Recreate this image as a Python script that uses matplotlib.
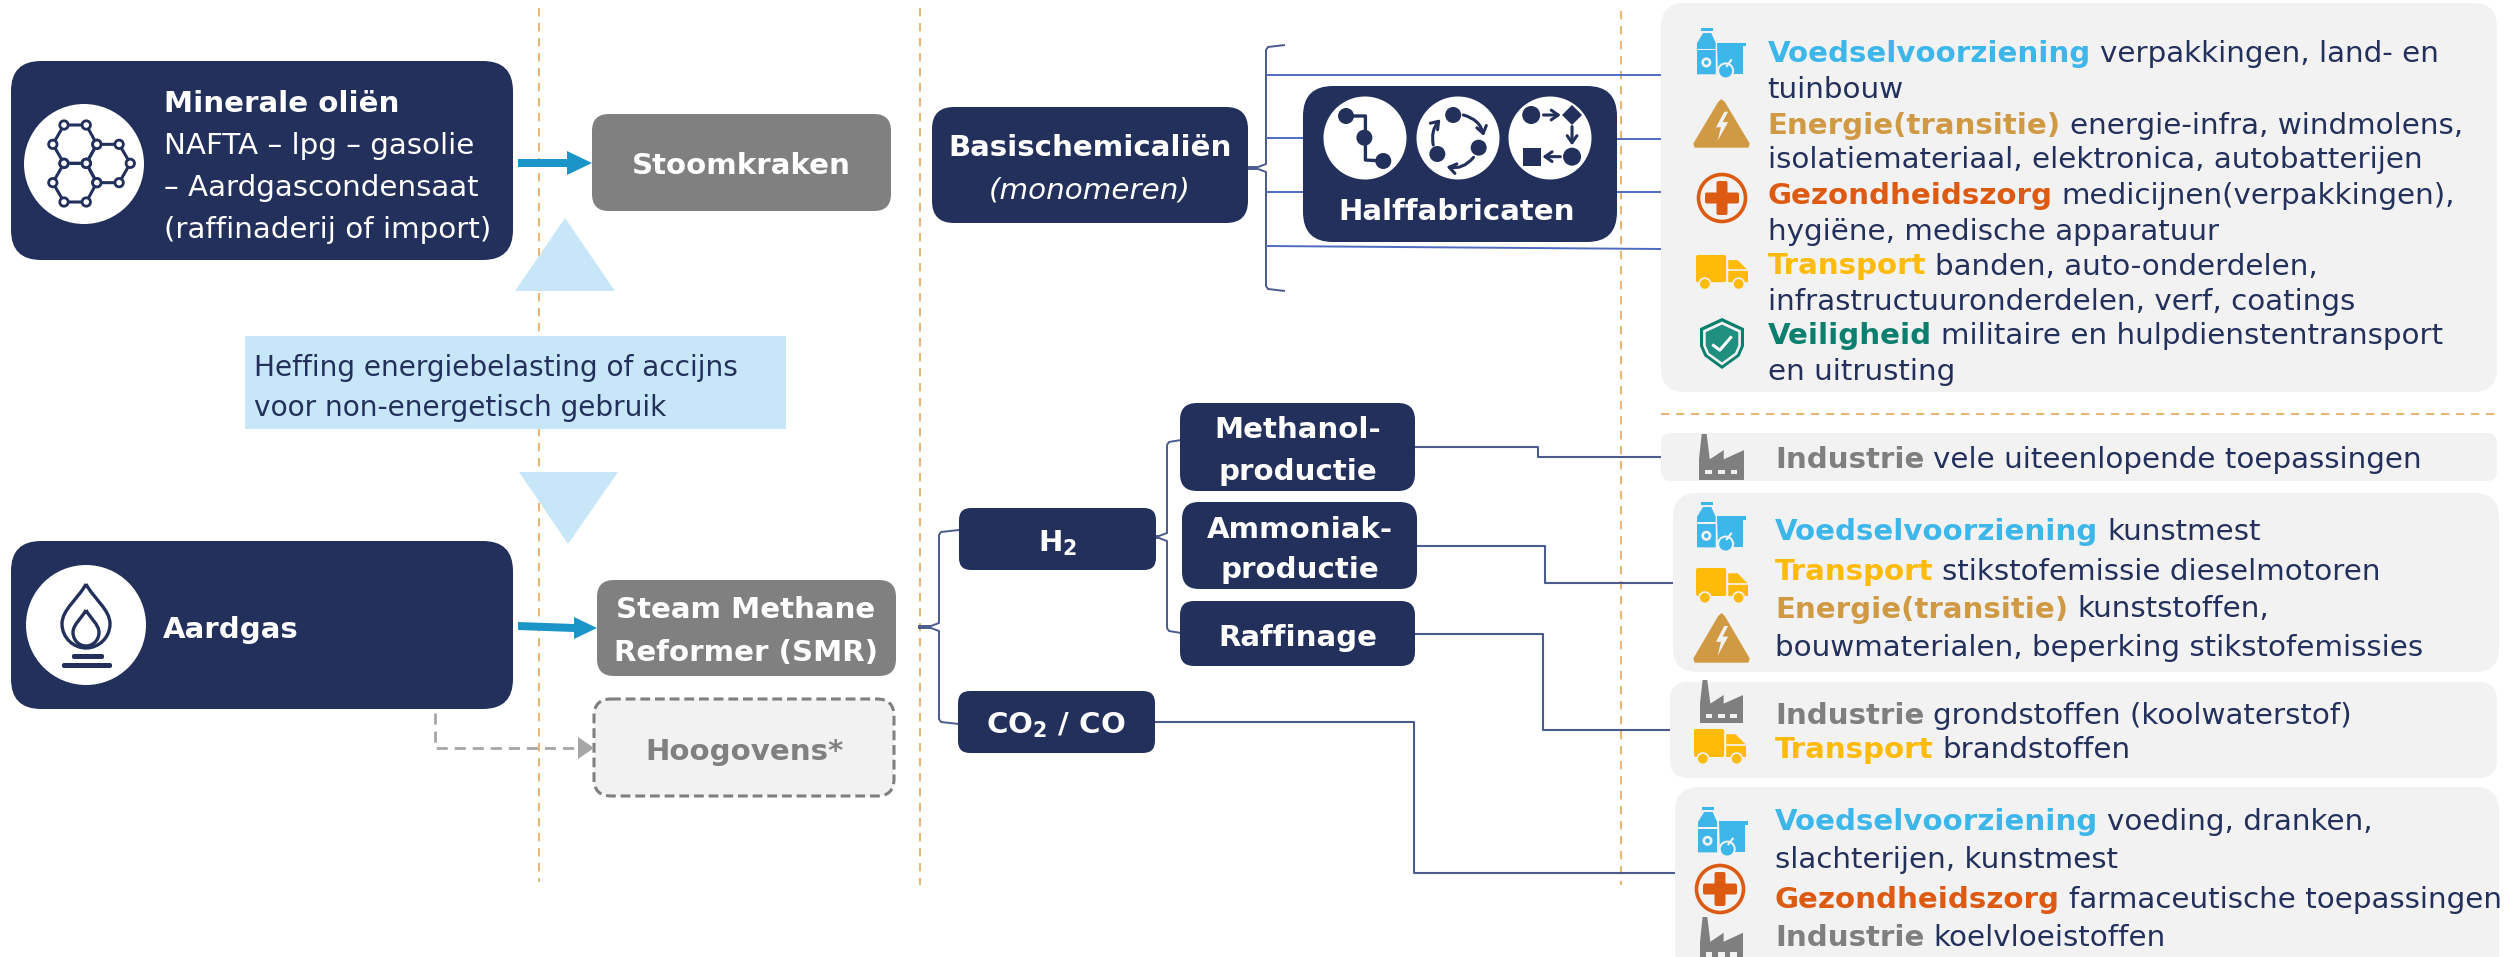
import matplotlib
matplotlib.use("Agg")
import matplotlib.pyplot as plt
from matplotlib.patches import FancyBboxPatch, Polygon, Circle, Rectangle, FancyArrowPatch, PathPatch
from matplotlib.path import Path

NAVY = '#22305B'; GREY = '#808080'; PANEL = '#F2F2F2'; LBLUE = '#C7E7F9'; ARROW = '#1B95C8'
ORANGE = '#E3A857'; LINE = '#4A5B8C'; BLUELINE = '#4F6BC0'
C = {'food': '#3DB7E9', 'energy': '#D09A45', 'health': '#DD5A12', 'transport': '#FFBA0A',
     'safety': '#0B7F6E', 'industry': '#7F7F7F'}

source_oil = ['Minerale oliën', 'NAFTA – lpg – gasolie', '– Aardgascondensaat', '(raffinaderij of import)']
source_gas = 'Aardgas'
levy = ['Heffing energiebelasting of accijns', 'voor non-energetisch gebruik']
smr = ['Steam Methane', 'Reformer (SMR)']
panel1 = [[('food', 'Voedselvoorziening'), (None, 'verpakkingen, land- en')], [(None, 'tuinbouw')],
          [('energy', 'Energie(transitie)'), (None, 'energie-infra, windmolens,')],
          [(None, 'isolatiemateriaal, elektronica, autobatterijen')],
          [('health', 'Gezondheidszorg'), (None, 'medicijnen(verpakkingen),')],
          [(None, 'hygiëne, medische apparatuur')],
          [('transport', 'Transport'), (None, 'banden, auto-onderdelen,')],
          [(None, 'infrastructuuronderdelen, verf, coatings')],
          [('safety', 'Veiligheid'), (None, 'militaire en hulpdienstentransport')],
          [(None, 'en uitrusting')]]
panel2 = [[('industry', 'Industrie'), (None, 'vele uiteenlopende toepassingen')]]
panel3 = [[('food', 'Voedselvoorziening'), (None, 'kunstmest')],
          [('transport', 'Transport'), (None, 'stikstofemissie dieselmotoren')],
          [('energy', 'Energie(transitie)'), (None, 'kunststoffen,')],
          [(None, 'bouwmaterialen, beperking stikstofemissies')]]
panel4 = [[('industry', 'Industrie'), (None, 'grondstoffen (koolwaterstof)')],
          [('transport', 'Transport'), (None, 'brandstoffen')]]
panel5 = [[('food', 'Voedselvoorziening'), (None, 'voeding, dranken,')],
          [(None, 'slachterijen, kunstmest')],
          [('health', 'Gezondheidszorg'), (None, 'farmaceutische toepassingen')],
          [('industry', 'Industrie'), (None, 'koelvloeistoffen')]]

plt.rcParams['font.family'] = ['DejaVu Sans']
plt.rcParams['mathtext.fontset'] = 'dejavusans'
fig = plt.figure(figsize=(25.09, 9.57), dpi=100)
ax = fig.add_axes([0, 0, 1, 1])
ax.set_xlim(0, 2509); ax.set_ylim(957, 0); ax.axis('off')
FS = 21.2; FSB = 21.1; DY = 1.5


def rbox(x0, y0, x1, y1, r, fc, ec='none', lw=0, ls='-', z=3):
    p = FancyBboxPatch((x0, y0), x1 - x0, y1 - y0, boxstyle=f'round,pad=0,rounding_size={r}',
                       fc=fc, ec=ec, lw=lw, ls=ls, zorder=z, clip_on=True)
    ax.add_patch(p)
    return p


def line(xs, ys, c=LINE, lw=1.4, z=2, **kw):
    ax.plot(xs, ys, color=c, lw=lw, zorder=z, solid_capstyle='butt', **kw)


def T(x, y, s, c='white', w='bold', fs=None, ha='center', **kw):
    fs = fs or (FSB if w == 'bold' else FS)
    return ax.text(x, y + DY, s, color=c, fontweight=w, fontsize=fs, ha=ha, va='center', zorder=6, **kw)


def rich(x, ys, lines, gap=9.0):
    r = fig.canvas.get_renderer()
    for y, segs in zip(ys, lines):
        cx = x
        for key, s in segs:
            t = T(cx, y, s, c=C[key] if key else NAVY, w='bold' if key else 'normal', ha='left')
            cx = t.get_window_extent(r).x1 + gap


def brace(xstart, ymid, xv, ytop, ybot, xend_top, xend_bot, c=LINE, lw=1.4):
    v = [(xstart, ymid - 1), (xv - 8, ymid - 1), (xv, ymid - 4), (xv, ytop + 5), (xv + 2, ytop + 2), (xend_top, ytop)]
    w = [(xstart, ymid + 1), (xv - 8, ymid + 1), (xv, ymid + 4), (xv, ybot - 5), (xv + 2, ybot - 2), (xend_bot, ybot)]
    for seg in (v, w):
        line([p[0] for p in seg], [p[1] for p in seg], c=c, lw=lw)


# ---- icons -----------------------------------------------------------------
def icon_food(x0, y0, x1, y1):
    c = C['food']; W = x1 - x0; H = y1 - y0
    f = lambda u, v: (x0 + (u - 103) / 89 * W, y0 + (v - 85) / 148 * H)
    ax.add_patch(Polygon([f(110, 85), f(132, 85), f(132, 95), f(110, 95)], fc=c, ec='none', zorder=4))
    ax.add_patch(Polygon([f(114, 100), f(129, 100), f(137, 130), f(137, 222), f(103, 222), f(103, 130)], fc=c, ec='none', zorder=4))
    ax.add_patch(Polygon([f(103, 146), f(137, 146), f(137, 151), f(103, 151)], fc=PANEL, ec='none', zorder=5))
    ax.add_patch(Polygon([f(140, 128), f(192, 128), f(192, 138), f(186, 138), f(186, 222), f(142, 222)], fc=c, ec='none', zorder=4))
    ax.add_patch(Circle(f(120, 187), 5, fc=PANEL, ec='none', zorder=5))
    ax.add_patch(Circle(f(120, 187), 2.3, fc=c, ec='none', zorder=6))
    ax.add_patch(Circle(f(155, 212), 8.5, fc=PANEL, ec='none', zorder=5))
    ax.add_patch(Circle(f(155, 212), 6.5, fc=c, ec='none', zorder=6))
    line(*zip(f(156, 200), f(166, 178)), c=PANEL, lw=1.5, z=6)


def icon_energy(x0, y0, x1, y1):
    c = C['energy']; W = x1 - x0; H = y1 - y0
    f = lambda u, v: (x0 + u * W, y0 + v * H)
    ax.add_patch(Polygon([f(.5, 0), f(.55, .05), f(1, .93), f(.98, 1), f(.02, 1), f(0, .93), f(.45, .05)], fc=c, ec=c, lw=1, zorder=4))
    ax.add_patch(Polygon([f(.55, .25), f(.40, .58), f(.49, .58), f(.43, .87), f(.62, .47), f(.52, .47), f(.62, .25)], fc=PANEL, ec='none', zorder=5))


def icon_health(cx, cy, r=25):
    c = C['health']
    ax.add_patch(Circle((cx, cy), r - 1.5, fc=PANEL, ec=c, lw=2.6, zorder=4))
    ax.add_patch(FancyBboxPatch((cx - 17, cy - 5.5), 34, 11, boxstyle='round,pad=0,rounding_size=2', fc=c, ec='none', zorder=5))
    ax.add_patch(FancyBboxPatch((cx - 5.5, cy - 17), 11, 34, boxstyle='round,pad=0,rounding_size=2', fc=c, ec='none', zorder=5))


def icon_truck(x0, y0, x1, y1):
    c = C['transport']; W = x1 - x0; H = y1 - y0
    f = lambda u, v: (x0 + u * W, y0 + v * H)
    ax.add_patch(FancyBboxPatch(f(0, 0), .58 * W, .8 * H, boxstyle='round,pad=0,rounding_size=2', fc=c, ec='none', zorder=4))
    ax.add_patch(Polygon([f(.62, .15), f(.8, .15), f(1, .45), f(1, .8), f(.62, .8)], fc=c, ec='none', zorder=4))
    line(*zip(f(.62, .45), f(1, .45)), c=PANEL, lw=1.2, z=5)
    for u in (.17, .82):
        ax.add_patch(Circle(f(u, .85), 5.7, fc=c, ec=PANEL, lw=1.2, zorder=5))


def icon_shield(x0, y0, x1, y1):
    c = C['safety']; W = x1 - x0; H = y1 - y0
    f = lambda u, v: (x0 + u * W, y0 + v * H)
    def shield(k, **kw):
        g = lambda u, v: f(.5 + (u - .5) * k, .5 + (v - .5) * k)
        verts = [g(.5, 0), g(1, .2), g(1, .55), g(.9, .75), g(.5, 1), g(.1, .75), g(0, .55), g(0, .2)]
        ax.add_patch(Polygon(verts, closed=True, **kw))
    shield(1, fc=c, ec='none', zorder=4)
    shield(.86, fc=PANEL, ec='none', zorder=5)
    shield(.74, fc='#1F8F80', ec='none', zorder=6)
    line(*zip(f(.28, .52), f(.45, .63), f(.72, .36)), c='white', lw=2.2, z=7)


def icon_factory(x0, y0, x1, y1):
    c = C['industry']; W = x1 - x0; H = y1 - y0
    f = lambda u, v: (x0 + u * W, y0 + v * H)
    ax.add_patch(Polygon([f(.06, 0), f(.17, 0), f(.24, .55), f(.55, .35), f(.55, .55), f(1, .35), f(1, 1), f(0, 1), f(0, .55)], fc=c, ec='none', zorder=4))
    for u in (.14, .42, .70):
        ax.add_patch(Rectangle(f(u, .78), .15 * W, .1 * H, fc=PANEL, ec='none', zorder=5))


# ---- guide lines ------------------------------------------------------------
for xv, y0, y1 in [(539, 8, 882), (919.5, 8, 885), (1620.5, 11, 885)]:
    ax.plot([xv, xv], [y0, y1], color=ORANGE, lw=1.2, ls=(0, (5, 4)), zorder=1)
ax.plot([1661, 2498], [414, 414], color=ORANGE, lw=1.2, ls=(0, (5, 4)), zorder=1)

# ---- left column ------------------------------------------------------------
rbox(11, 61, 513, 260, 30, NAVY)
ax.add_patch(Circle((84, 164), 60, fc='white', ec='none', zorder=4))
z1 = lambda u, v: (u / 1.704, v / 3)
hexes = [[(109, 375), (147, 375), (165, 433), (147, 490), (109, 490), (90, 433)],
         [(165, 433), (203, 433), (222, 490), (203, 548), (165, 548), (147, 490)],
         [(109, 490), (147, 490), (165, 548), (147, 606), (109, 606), (90, 548)]]
for h in hexes:
    pts = [z1(*p) for p in h]
    ax.add_patch(Polygon(pts, closed=True, fc='none', ec=NAVY, lw=2.2, zorder=5))
    for p in pts:
        ax.add_patch(Circle(p, 4.2, fc='white', ec=NAVY, lw=2.0, zorder=6))
for y, s, w in zip([102, 144, 187, 229], source_oil, ['bold', 'normal', 'normal', 'normal']):
    T(164, y, s, w=w, ha='left')

rbox(592, 114, 891, 211, 17, GREY)
T(741, 164, 'Stoomkraken')
ax.add_patch(Polygon([(518, 159), (567, 159), (567, 151), (592, 163), (567, 175), (567, 167), (518, 167)], fc=ARROW, ec='none', zorder=5))
ax.add_patch(Polygon([(565, 218), (615, 291), (515, 291)], fc=LBLUE, ec='none', zorder=2))
ax.add_patch(Rectangle((245, 336), 541, 93, fc=LBLUE, ec='none', zorder=2))
for y, s in zip([366, 406], levy):
    T(254, y, s, c=NAVY, w='normal', ha='left', fs=20.2)
ax.add_patch(Polygon([(519, 472), (618, 472), (568, 544)], fc=LBLUE, ec='none', zorder=2))

rbox(11, 541, 513, 709, 30, NAVY)
ax.add_patch(Circle((86, 625), 60, fc='white', ec='none', zorder=4))


def flame(cx, top, bot, hw, **kw):
    h = bot - top
    m = top + .62 * h
    v = [(cx, top), (cx + .3 * hw, top + .22 * h), (cx + hw, top + .4 * h), (cx + hw, m),
         (cx + hw, top + .85 * h), (cx + .5 * hw, bot), (cx, bot),
         (cx - .5 * hw, bot), (cx - hw, top + .85 * h), (cx - hw, m),
         (cx - hw, top + .4 * h), (cx - .3 * hw, top + .22 * h), (cx, top)]
    codes = [Path.MOVETO] + [Path.CURVE4] * 12
    ax.add_patch(PathPatch(Path(v, codes), **kw))


flame(86, 584, 648, 24, fc='none', ec=NAVY, lw=2.4, zorder=5)
flame(86, 610, 646, 13, fc='none', ec=NAVY, lw=2.4, zorder=5)
ax.add_patch(FancyBboxPatch((72, 654), 32, 5, boxstyle='round,pad=0,rounding_size=2', fc=NAVY, ec='none', zorder=5))
ax.add_patch(FancyBboxPatch((62, 663), 50, 5, boxstyle='round,pad=0,rounding_size=2', fc=NAVY, ec='none', zorder=5))
T(163, 628, source_gas, ha='left')

rbox(597, 580, 896, 676, 17, GREY)
for y, s in zip([609, 652], smr):
    T(746, y, s)
ax.add_patch(Polygon([(518, 622), (574, 624), (574, 617), (597, 628), (574, 639), (574, 632), (518, 630)], fc=ARROW, ec='none', zorder=5))

rbox(594, 699, 894, 796, 17, PANEL, ec='#7F7F7F', lw=2.2, ls=(0, (3.2, 1.6)))
T(744, 750, 'Hoogovens*', c=GREY)
ax.plot([435, 435, 580], [713, 748, 748], color='#A6A6A6', lw=2.0, ls=(0, (4, 2.5)), zorder=2)
ax.add_patch(Polygon([(578, 737), (594, 748), (578, 759)], fc='#A6A6A6', ec='none', zorder=3))

# ---- middle column ----------------------------------------------------------
rbox(932, 107, 1248, 223, 22, NAVY)
T(1090, 147, 'Basischemicaliën')
T(1090, 189, '(monomeren)', w='normal', style='italic')
brace(1248, 168, 1266, 45, 291, 1285, 1285)
for xs, ys in [([1266, 1661], [75, 75]), ([1266, 1303], [138, 138]), ([1617, 1661], [139, 139]),
               ([1266, 1303], [192, 192]), ([1617, 1661], [192, 192]), ([1266, 1661], [246, 249])]:
    line(xs, ys, c=BLUELINE, lw=1.4, z=2)

rbox(1303, 86, 1617, 242, 30, NAVY)
T(1457, 211, 'Halffabricaten')
for cx in (1365, 1458, 1550):
    ax.add_patch(Circle((cx, 138), 41.5, fc='white', ec='none', zorder=4))
z3 = lambda u, v: (920 + u / 1.96, v / 3)
p = [z3(835, 348), z3(873, 348), z3(873, 480), z3(908, 483)]
line(*zip(*p), c=NAVY, lw=2.4, z=5)
for u, v in [(835, 348), (871, 413), (908, 483)]:
    ax.add_patch(Circle(z3(u, v), 8, fc=NAVY, ec='none', zorder=6))
for u, v in [(1045, 345), (1095, 443), (1014, 462)]:
    ax.add_patch(Circle(z3(u, v), 8, fc=NAVY, ec='none', zorder=6))
for a, b, rad in [((1065, 345), (1105, 408), -.3), ((1085, 472), (1032, 500), -.3), ((1006, 435), (1020, 358), -.25)]:
    ax.add_patch(FancyArrowPatch(z3(*a), z3(*b), connectionstyle=f'arc3,rad={rad}', arrowstyle='->,head_length=5,head_width=3.5', color=NAVY, lw=2.2, zorder=6, shrinkA=0, shrinkB=0))
ax.add_patch(Circle(z3(1198, 345), 9, fc=NAVY, ec='none', zorder=6))
ax.add_patch(Circle(z3(1278, 470), 9, fc=NAVY, ec='none', zorder=6))
cxd, cyd = z3(1278, 345)
ax.add_patch(Polygon([(cxd, cyd - 10), (cxd + 10, cyd), (cxd, cyd + 10), (cxd - 10, cyd)], fc=NAVY, ec='none', zorder=6))
sx, sy = z3(1199, 470)
ax.add_patch(Rectangle((sx - 9, sy - 9), 18, 18, fc=NAVY, ec='none', zorder=6))
for a, b in [((1222, 345), (1256, 345)), ((1278, 380), (1278, 436)), ((1255, 470), (1220, 470))]:
    ax.add_patch(FancyArrowPatch(z3(*a), z3(*b), arrowstyle='->,head_length=5,head_width=3.5', color=NAVY, lw=2.2, zorder=6, shrinkA=0, shrinkB=0))

brace(918, 627, 939, 530, 724, 959, 959)
brace(1156, 537, 1167, 440, 633, 1181, 1181)

for x0, y0, x1, y1, r, lab, ys in [(1180, 403, 1415, 491, 17, ['Methanol-', 'productie'], [429, 470]),
                                   (1182, 502, 1417, 589, 17, ['Ammoniak-', 'productie'], [528, 569]),
                                   (1180, 601, 1415, 666, 14, ['Raffinage'], [637])]:
    rbox(x0, y0, x1, y1, r, NAVY)
    for y, s in zip(ys, lab):
        T((x0 + x1) / 2, y, s)
rbox(959, 508, 1156, 570, 12, NAVY); T(1058, 542, r'H$_{\mathbf{2}}$')
rbox(958, 691, 1155, 753, 12, NAVY); T(1056, 724, r'CO$_{\mathbf{2}}$ / CO')

for xs, ys in [([1415, 1538, 1538, 1661], [447, 447, 457, 457]),
               ([1417, 1545, 1545, 1673], [546, 546, 583, 583]),
               ([1415, 1543, 1543, 1670], [634, 634, 730, 730]),
               ([1155, 1414, 1414, 1675], [722, 722, 873, 873])]:
    line(xs, ys, lw=1.5)

# ---- right panels -----------------------------------------------------------
rbox(1661, 3, 2497, 392, 24, PANEL, z=1.5)
rbox(1661, 433, 2497, 481, 10, PANEL, z=1.5)
rbox(1673, 493, 2499, 672, 24, PANEL, z=1.5)
rbox(1670, 682, 2497, 778, 18, PANEL, z=1.5)
rbox(1675, 787, 2499, 990, 24, PANEL, z=1.5)

fig.canvas.draw()
rich(1767.5, [53, 89, 124, 159, 194, 230, 265, 300, 335, 370], panel1)
rich(1775, [459], panel2)
rich(1775, [531, 570, 608, 647], panel3)
rich(1775, [714, 749], panel4)
rich(1775, [821, 859, 898, 936], panel5)

icon_food(1697, 28, 1746, 78); icon_energy(1694, 100, 1749, 147); icon_health(1722, 198)
icon_truck(1696, 255, 1748, 289); icon_shield(1700, 318, 1744, 369)
icon_factory(1699, 434, 1744, 480)
icon_food(1697, 502, 1746, 551); icon_truck(1696, 568, 1748, 603); icon_energy(1694, 614, 1749, 662)
icon_factory(1700, 680, 1743, 723); icon_truck(1694, 729, 1746, 764)
icon_food(1698, 807, 1748, 856); icon_health(1720, 889); icon_factory(1700, 917, 1743, 962)

fig.savefig('out.png', dpi=100)
